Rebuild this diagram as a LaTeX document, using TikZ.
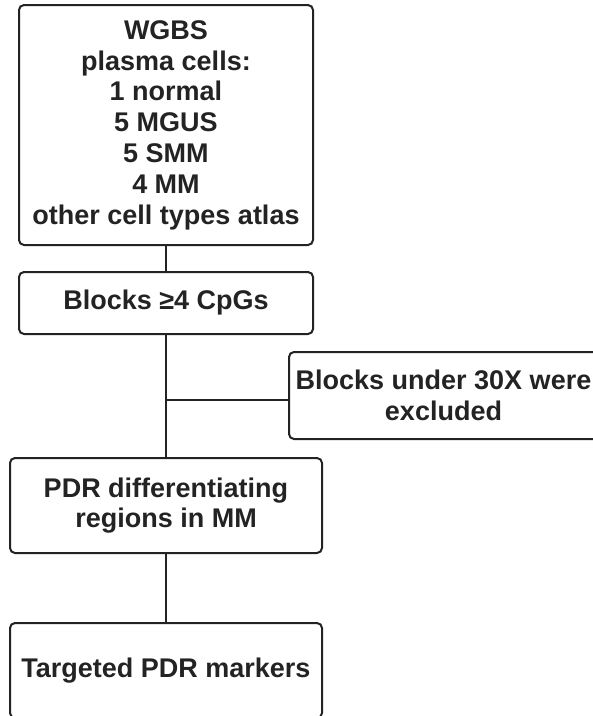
\documentclass[tikz,border=0pt]{standalone}
\usepackage{fontspec}
\setmainfont{Liberation Sans}
\definecolor{ink}{HTML}{232323}
\begin{document}
\begin{tikzpicture}[x=1pt,y=-1pt,
  box/.style={draw=ink, line width=2pt, rounded corners=5pt, inner sep=0pt, align=center,
    font=\bfseries\fontsize{27}{30.8}\selectfont, text=ink},
  link/.style={draw=ink, line width=2pt}]
\useasboundingbox (0,0) rectangle (593,716);
\clip (0,0) rectangle (593,716);
\node[box, minimum width=294pt, minimum height=240pt] (wgbs) at (166,125)
  {WGBS\\plasma cells:\\1 normal\\5 MGUS\\5 SMM\\4 MM\\other cell types atlas};
\node[box, minimum width=294pt, minimum height=62pt] (blocks) at (166,303) {Blocks ≥4 CpGs};
\node[box, minimum width=309pt, minimum height=87pt] (excl) at (443.5,395.5) {Blocks under 30X were\\excluded};
\node[box, minimum width=312pt, minimum height=95pt] (pdr) at (166,505.5) {PDR differentiating\\regions in MM};
\node[box, minimum width=312pt, minimum height=95pt] (target) at (166,670.5) {Targeted PDR markers};
\coordinate (branch) at (166,400);
\draw[link] (wgbs.south) -- (blocks.north);
\draw[link] (blocks.south) -- (pdr.north);
\draw[link] (branch) -- (branch -| excl.west);
\draw[link] (pdr.south) -- (target.north);
\end{tikzpicture}
\end{document}
